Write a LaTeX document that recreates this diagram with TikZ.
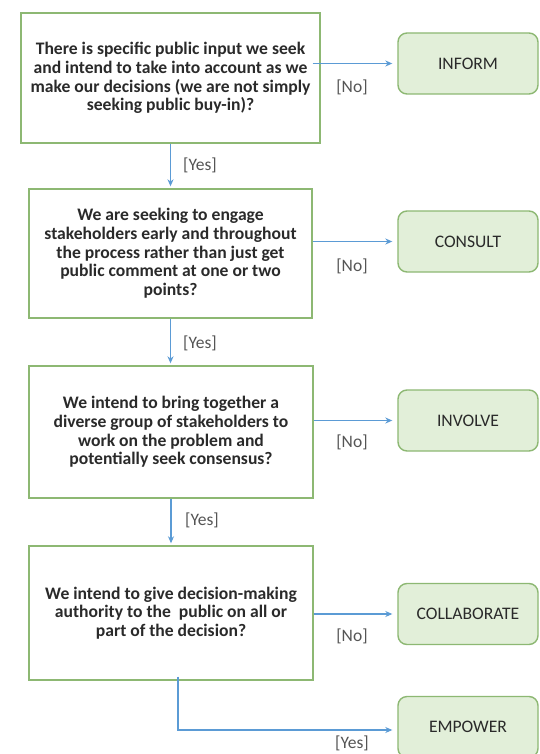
\documentclass[tikz,border=0pt]{standalone}
\usepackage{fontspec}
\setmainfont{Carlito}
\usetikzlibrary{arrows.meta}
\definecolor{boxgreen}{HTML}{8DB873}
\definecolor{fillgreen}{HTML}{E2EFD9}
\definecolor{arrowblue}{HTML}{5B9BD5}
\definecolor{txt}{HTML}{2A2A2A}
\definecolor{lbl}{HTML}{555555}
\tikzset{
  question/.style={draw=boxgreen, line width=1.4pt, fill=white, align=center,
    font=\fontsize{17.6}{18.7}\selectfont\bfseries, text=txt, inner sep=0pt},
  outcome/.style={draw=boxgreen, line width=1.4pt, fill=fillgreen, rounded corners=9pt,
    minimum width=140pt, minimum height=61pt, font=\fontsize{17.6}{20}\selectfont, text=txt, inner sep=0pt},
  flow/.style={draw=arrowblue, line width=1.1pt, -{Stealth[length=7pt,width=6pt]}},
  tag/.style={font=\fontsize{17.5}{20}\selectfont, text=lbl, inner sep=0pt}
}
\begin{document}
\begin{tikzpicture}[x=1pt,y=-1pt]
\useasboundingbox[fill=white] (0,0) rectangle (540,754);
% questions
\node[question, minimum width=299pt, minimum height=130pt] (b1) at (170.5,78)
  {There is specific public input we seek\\and intend to take into account as we\\make our decisions (we are not simply\\seeking public buy-in)?};
\node[question, minimum width=283pt, minimum height=129pt] (b2) at (170.5,253.5)
  {We are seeking to engage\\stakeholders early and throughout\\the process rather than just get\\public comment at one or two\\points?};
\node[question, minimum width=284pt, minimum height=132pt] (b3) at (171,432)
  {We intend to bring together a\\diverse group of stakeholders to\\work on the problem and\\potentially seek consensus?};
\node[question, minimum width=284pt, minimum height=134pt] (b4) at (171,613)
  {We intend to give decision-making\\authority to the \ public on all or\\part of the decision?};
% outcomes
\node[outcome] (o1) at (468,63.5) {INFORM};
\node[outcome] (o2) at (468,241.5) {CONSULT};
\node[outcome] (o3) at (468,420.5) {INVOLVE};
\node[outcome] (o4) at (468,614) {COLLABORATE};
\node[outcome] (o5) at (468,727) {EMPOWER};
% no arrows
\draw[flow, shorten >=5pt] ([xshift=-8pt]b1.east |- o1.west) -- (o1.west);
\draw[flow, shorten >=5pt] (b2.east |- o2.west) -- (o2.west);
\draw[flow, shorten >=5pt] (b3.east |- o3.west) -- (o3.west);
\draw[flow, shorten >=5pt] (b4.east |- o4.west) -- (o4.west);
\draw[flow, shorten >=5pt] ([xshift=7pt,yshift=4pt]b4.south) |- ([yshift=-3pt]o5.west);
% yes arrows
\draw[flow, shorten >=2pt] (b1.south) -- (b1.south |- b2.north);
\draw[flow, shorten >=2pt] (b2.south) -- (b2.south |- b3.north);
\draw[flow, shorten >=2pt] (b3.south) -- (b3.south |- b4.north);
% labels
\node[tag] (n1) at (352,87) {[No]};
\node[tag] (n2) at (352,266) {[No]};
\node[tag] (n3) at (352,442) {[No]};
\node[tag] (n4) at (352,636) {[No]};
\node[tag] (y4) at (352,743) {[Yes]};
\node[tag] (y1) at (200,165) {[Yes]};
\node[tag] (y2) at (200,343) {[Yes]};
\node[tag] (y3) at (202,520) {[Yes]};
\end{tikzpicture}
\end{document}
